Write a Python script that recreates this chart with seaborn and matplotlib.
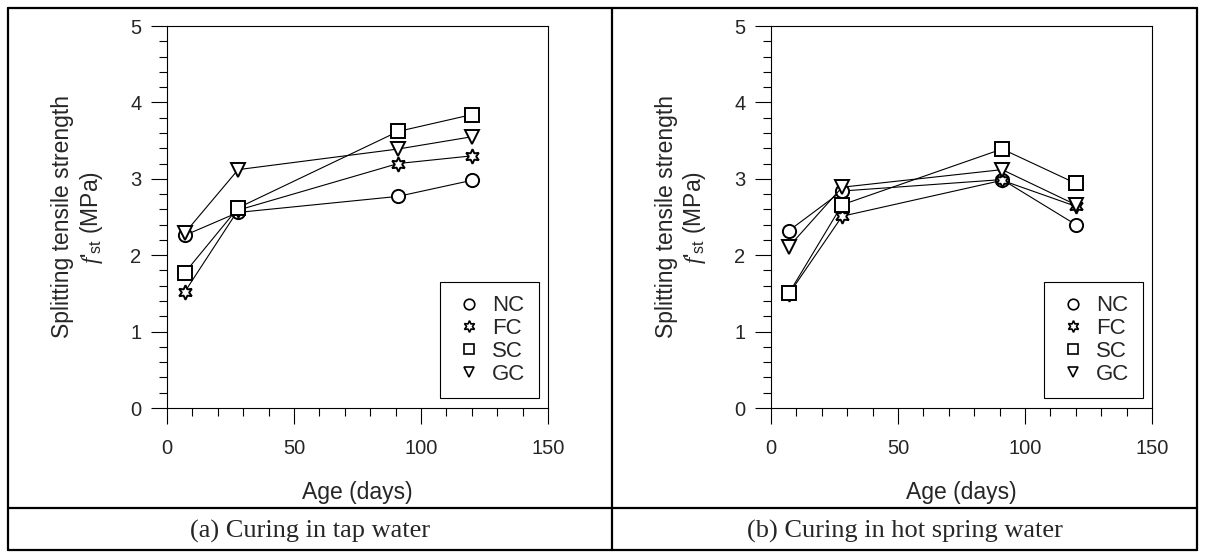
import matplotlib
matplotlib.use("Agg")
import matplotlib.pyplot as plt
import seaborn as sns
import pandas as pd
from matplotlib.lines import Line2D
from matplotlib.ticker import MultipleLocator

# ---------------- data ----------------
days = [7, 28, 91, 120]
series = ["NC", "FC", "SC", "GC"]

tap_NC = [2.26, 2.56, 2.77, 2.98]
tap_FC = [1.52, 2.59, 3.20, 3.30]
tap_SC = [1.77, 2.62, 3.62, 3.84]
tap_GC = [2.29, 3.12, 3.39, 3.55]

hot_NC = [2.32, 2.84, 2.99, 2.40]
hot_FC = [1.49, 2.51, 2.98, 2.64]
hot_SC = [1.50, 2.66, 3.39, 2.94]
hot_GC = [2.11, 2.89, 3.12, 2.66]

captions = ["(a) Curing in tap water", "(b) Curing in hot spring water"]
x_label = "Age (days)"
y_label_1 = "Splitting tensile strength"
y_label_2 = r"$\mathit{f}$'$_{\mathrm{st}}$ (MPa)"

markers = {"NC": "o", "FC": (6, 1, 0), "SC": "s", "GC": "v"}
msizes = {"NC": 9.5, "FC": 10.5, "SC": 9.5, "GC": 9.5}

# ---------------- style ----------------
sns.set_theme(style="ticks")
plt.rcParams["font.family"] = ["Liberation Sans", "DejaVu Sans"]
plt.rcParams["mathtext.fontset"] = "custom"
plt.rcParams["mathtext.it"] = "Liberation Serif:italic"
plt.rcParams["mathtext.rm"] = "Liberation Sans"
plt.rcParams["axes.edgecolor"] = "black"

W, H = 1205, 553
fig = plt.figure(figsize=(W / 100, H / 100), dpi=100)
fig.patch.set_facecolor("white")


def frac_box(x0, x1, ytop, ybot):
    return [x0 / W, (H - ybot) / H, (x1 - x0) / W, (ybot - ytop) / H]


panels = [
    (frac_box(167, 548, 26, 408), {"NC": tap_NC, "FC": tap_FC, "SC": tap_SC, "GC": tap_GC}),
    (frac_box(771, 1152, 26, 408), {"NC": hot_NC, "FC": hot_FC, "SC": hot_SC, "GC": hot_GC}),
]

axes = []
for box, data in panels:
    ax = fig.add_axes(box)
    axes.append(ax)
    for name in series:
        df = pd.DataFrame({"Age": days, "Strength": data[name]})
        sns.lineplot(
            data=df, x="Age", y="Strength", ax=ax, color="black", linewidth=0.8,
            marker=markers[name], markersize=msizes[name], markerfacecolor="white",
            markeredgecolor="black", markeredgewidth=1.4, errorbar=None,
        )
    ax.set_xlim(0, 150)
    ax.set_ylim(0, 5)
    ax.xaxis.set_major_locator(MultipleLocator(50))
    ax.xaxis.set_minor_locator(MultipleLocator(10))
    ax.yaxis.set_major_locator(MultipleLocator(1))
    ax.yaxis.set_minor_locator(MultipleLocator(0.2))
    ax.tick_params(which="major", direction="out", length=11.5, width=0.8,
                   labelsize=14.5, color="black")
    ax.tick_params(axis="x", which="major", pad=11)
    ax.tick_params(axis="y", which="major", pad=7)
    ax.tick_params(which="minor", direction="out", length=6, width=0.8, color="black")
    for sp in ax.spines.values():
        sp.set_linewidth(0.8)
        sp.set_visible(True)
    ax.set_xlabel("")
    ax.set_ylabel("")

    handles = [
        Line2D([], [], linestyle="none", marker=markers[n], markersize=msizes[n] * 0.8,
               markerfacecolor="white", markeredgecolor="black", markeredgewidth=1.2)
        for n in series
    ]
    leg = ax.legend(handles, series, loc="lower right", bbox_to_anchor=(0.976, 0.026),
                    fontsize=16, frameon=True, fancybox=False, framealpha=1,
                    edgecolor="black", handlelength=1.4, handletextpad=0.33,
                    labelspacing=0.08, borderpad=0.6, borderaxespad=0)
    leg.get_frame().set_linewidth(0.8)

# axis labels
for ax in axes:
    pos = ax.get_position()
    cx = (pos.x0 + pos.x1) / 2
    cy = (pos.y0 + pos.y1) / 2
    fig.text(cx, (H - 492) / H, x_label, ha="center", va="center", fontsize=16.5)
    fig.text(pos.x0 - 104 / W, cy, y_label_1, ha="center", va="center",
             rotation=90, fontsize=16.5)
    fig.text(pos.x0 - 76 / W, cy, y_label_2, ha="center", va="center",
             rotation=90, fontsize=16.5)

# captions
fig.text((8 + 612) / 2 / W, (H - 531) / H, captions[0], ha="center", va="center",
         fontsize=19, family="Liberation Serif")
fig.text((612 + 1197) / 2 / W, (H - 531) / H, captions[1], ha="center", va="center",
         fontsize=19, family="Liberation Serif")

# table borders
def fline(x0, y0, x1, y1, lw=1.6):
    fig.add_artist(Line2D([x0 / W, x1 / W], [(H - y0) / H, (H - y1) / H],
                          transform=fig.transFigure, color="black", linewidth=lw))

L, R, T, B = 8, 1197, 8, 550
fline(L, T, R, T)
fline(L, B, R, B)
fline(L, T, L, B)
fline(R, T, R, B)
fline(612, T, 612, B)
fline(L, 508, R, 508)

fig.savefig("out.png", dpi=100, facecolor="white")
